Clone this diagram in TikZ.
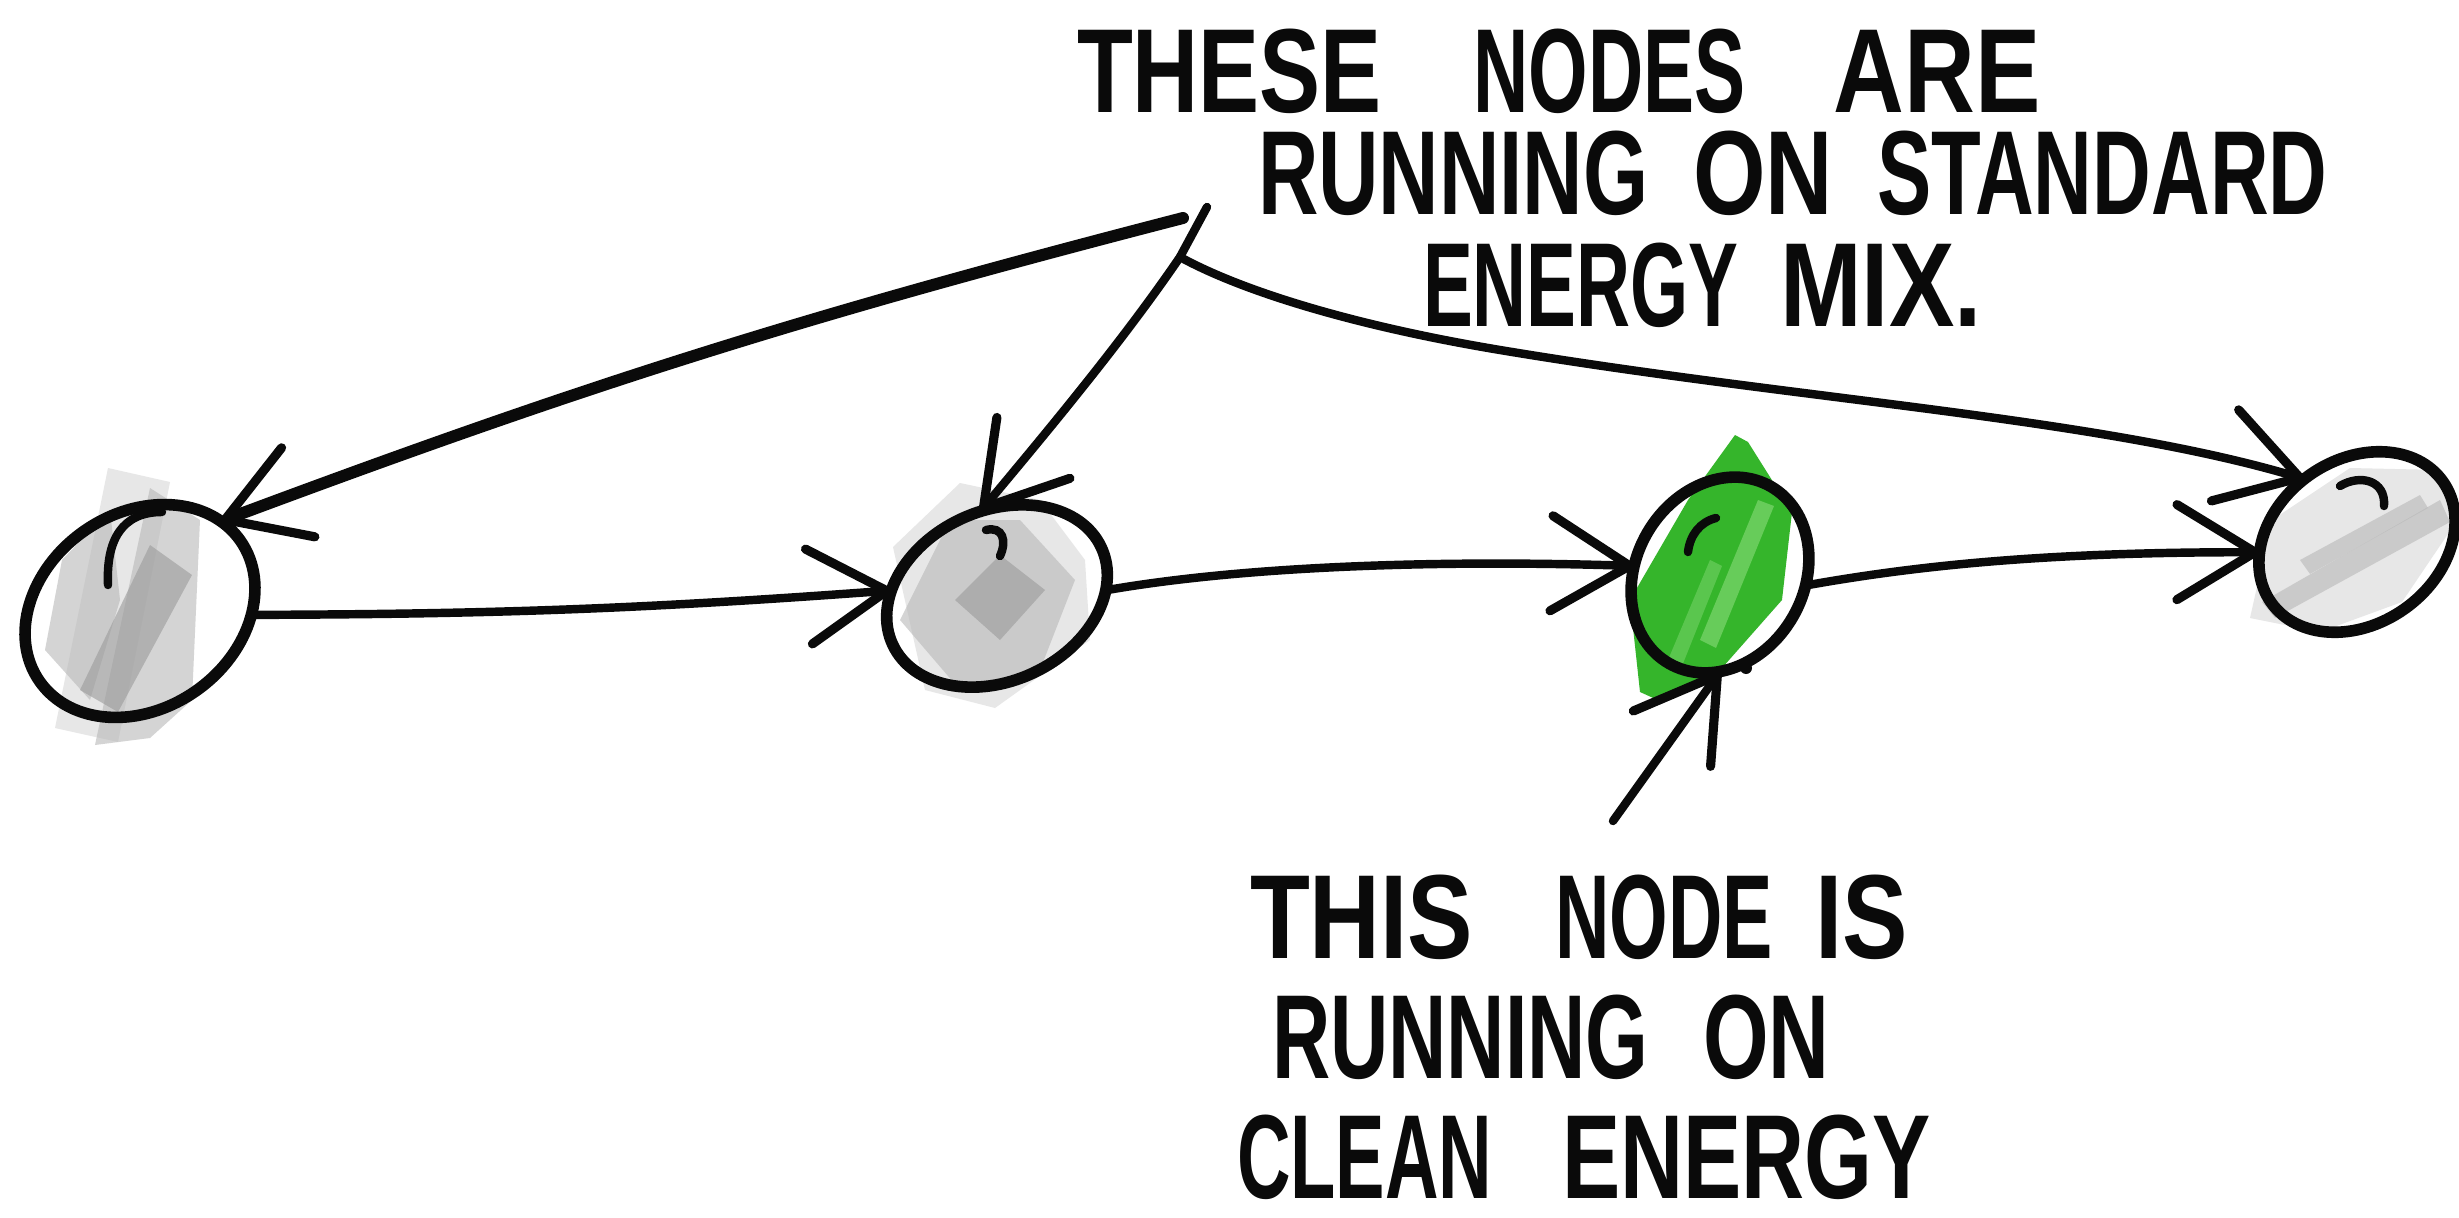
\documentclass[tikz,border=0pt]{standalone}
\usepackage{fontspec}
\usepackage{graphicx}
\setmainfont{Liberation Sans}
\usetikzlibrary{arrows.meta,shapes.geometric}

\definecolor{ink}{HTML}{0A0A0A}
\definecolor{leaf}{HTML}{35B52B}
\definecolor{leaflight}{HTML}{74D266}
\definecolor{greydark}{HTML}{9A9A9A}
\definecolor{greymid}{HTML}{B8B8B8}
\definecolor{greylight}{HTML}{D8D8D8}

% one hand-lettered word: advance to the next word, horizontal squeeze, word
\newcommand\hw[3]{\makebox[#1][l]{\scalebox{#2}[1]{#3}}}

\begin{document}
\begin{tikzpicture}[
  x=0.01cm, y=-0.01cm,
  blob/.style={ellipse, draw=ink, line width=3.3pt, inner sep=0pt, outer sep=0pt},
  link/.style={draw=ink, line width=2.4pt, line cap=round,
    -{Straight Barb[length=0.78cm,width=0.95cm,line width=2.6pt,round]}},
  hilite/.style={draw=ink, line width=2.4pt, line cap=round},
  smudge/.style={fill=#1, fill opacity=0.6, draw=none},
  hand/.style={anchor=base west, inner sep=0pt, outer sep=0pt,
    font=\bfseries\fontsize{34}{38}\selectfont, text=ink},
]
\useasboundingbox[fill=white] (0,0) rectangle (2459,1218);

% --- marker shading behind the nodes ---
\fill[smudge=greylight] (55,728) -- (108,468) -- (170,482) -- (118,742) -- cycle;
\fill[smudge=greymid] (95,745) -- (150,488) -- (200,520) -- (192,700) -- (150,738) -- cycle;
\fill[smudge=greymid] (45,650) -- (62,560) -- (110,510) -- (120,600) -- (90,700) -- cycle;
\fill[smudge=greydark] (80,690) -- (150,545) -- (192,575) -- (118,712) -- cycle;
\fill[smudge=greylight] (893,547) -- (960,483) -- (1040,500) -- (1085,560) -- (1090,640) -- (995,708) -- (925,690) -- cycle;
\fill[smudge=greymid] (900,620) -- (950,520) -- (1020,520) -- (1075,580) -- (1040,670) -- (960,690) -- cycle;
\fill[smudge=greydark] (955,600) -- (1000,555) -- (1045,590) -- (1000,640) -- cycle;
\fill[leaf] (1640,692) -- (1630,600) -- (1688,500) -- (1735,435) -- (1748,442) -- (1792,512) -- (1782,600) -- (1722,668) -- (1662,702) -- cycle;
\fill[leaflight, fill opacity=0.8] (1700,640) -- (1758,500) -- (1774,506) -- (1716,648) -- cycle;
\fill[leaflight, fill opacity=0.6] (1668,660) -- (1710,560) -- (1722,566) -- (1682,666) -- cycle;
\fill[smudge=greylight] (2250,618) -- (2272,520) -- (2350,468) -- (2440,470) -- (2456,522) -- (2402,602) -- (2320,632) -- cycle;
\fill[smudge=greymid] (2262,602) -- (2440,500) -- (2450,522) -- (2275,618) -- cycle;
\fill[smudge=greymid] (2300,560) -- (2420,495) -- (2428,508) -- (2310,574) -- cycle;

% --- nodes ---
\node[blob, minimum width=2.45cm, minimum height=1.95cm, rotate=35] (n1) at (140,611) {};
\node[blob, minimum width=2.3cm,  minimum height=1.7cm,  rotate=25] (n2) at (997,596) {};
\node[blob, minimum width=2.04cm, minimum height=1.68cm, rotate=60] (n3) at (1720,575) {};
\node[blob, minimum width=2.1cm,  minimum height=1.64cm, rotate=35] (n4) at (2357,542) {};

% small gloss strokes inside the nodes
\draw[hilite] (108,585) .. controls (106,540) and (122,512) .. (162,512);
\draw[hilite] (986,530) .. controls (1003,526) and (1007,541) .. (1000,556);
\draw[hilite] (1688,552) .. controls (1690,535) and (1700,522) .. (1716,518);
\draw[hilite] (2340,486) .. controls (2360,474) and (2386,480) .. (2384,506);

% --- chain of nodes ---
\draw[link] (n1.-37) to[bend right=2] (n2.152);
\draw[link] (n2.-22) .. controls (1250,565) and (1450,560) .. (n3.114);
\draw[link] (n3.-67) .. controls (1920,565) and (2050,552) .. (n4.151);

% --- upper annotation ---
\coordinate (hubA) at (1207,207);
\coordinate (hubB) at (1180,257);
\coordinate (hubC) at (1183,218);
\draw[link, line width=3.4pt] (hubC) to[bend right=3] (n1.13);
\draw[link] (hubA) -- (hubB) .. controls (1120,345) and (1040,440) .. (n2.76);
\draw[link] (hubB) .. controls (1240,290) and (1350,325) .. (1500,350)
  .. controls (1800,400) and (2100,418) .. (n4.95);

\node[hand] (t1) at (1077,112) {\hw{3.96cm}{0.765}{THESE}\hw{3.6cm}{0.64}{NODES}\scalebox{0.82}[1]{ARE}};
\node[hand] (t2) at (1258,214) {\hw{4.35cm}{0.70}{RUNNING}\hw{1.84cm}{0.78}{ON}\scalebox{0.68}[1]{STANDARD}};
\node[hand] (t3) at (1423,326) {\hw{3.57cm}{0.625}{ENERGY}\scalebox{0.82}[1]{MIX.}};

% --- lower annotation ---
\coordinate (tail) at (1613,821);
\draw[link] (tail) -- (n3.-150);
\fill[ink] (1746,668) circle[radius=6];

\node[hand] (b1) at (1250,958) {\hw{3.05cm}{0.82}{THIS}\hw{2.6cm}{0.63}{NODE}\scalebox{0.82}[1]{IS}};
\node[hand] (b2) at (1272,1078) {\hw{4.31cm}{0.675}{RUNNING}\scalebox{0.705}[1]{ON}};
\node[hand] (b3) at (1237,1198) {\hw{3.25cm}{0.62}{CLEAN}\scalebox{0.73}[1]{ENERGY}};
\end{tikzpicture}
\end{document}
